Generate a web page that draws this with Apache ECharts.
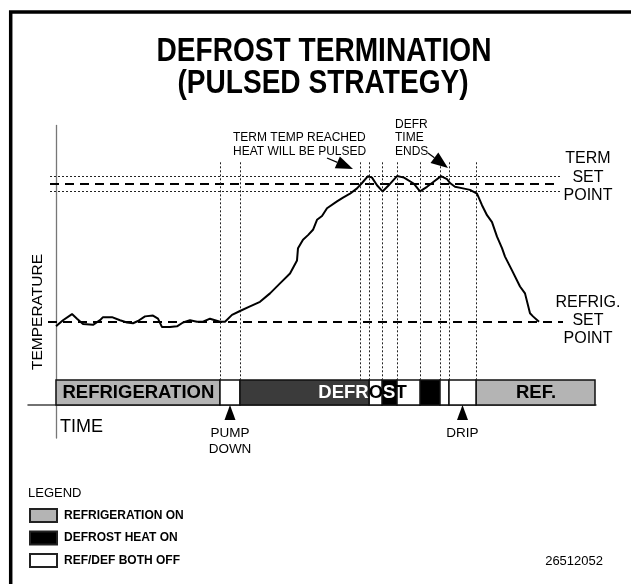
<!DOCTYPE html>
<html>
<head>
<meta charset="utf-8">
<script src="https://cdn.jsdelivr.net/npm/echarts@6/dist/echarts.min.js"></script>
<style>
  html, body { margin: 0; padding: 0; background: #ffffff; }
  #chart { width: 631px; height: 584px; }
</style>
</head>
<body>
<div id="chart"></div>
<script>
// Evaporator temperature through one refrigeration / defrost cycle
// (time in minutes from the start of the trace, temperature in °F)
const timeMinutes = [0, 7, 16, 21, 27, 37, 44, 47, 56, 64, 71, 77, 82, 89, 97, 102, 106, 114, 121, 127,
  134, 141, 147, 154, 159, 164, 169, 176, 184, 194, 204, 214, 224, 234, 241, 242, 247, 252, 257, 261,
  266, 271, 281, 287, 294, 301, 306, 312, 316, 321, 326.5, 332, 341, 348, 358, 364, 371, 377, 385, 391,
  394, 399, 407, 414, 421, 426, 431, 436, 441, 446, 449, 456, 464, 469, 474, 477, 483];
const temperatures = [33.4, 34.2, 35.0, 34.4, 33.7, 33.6, 34.2, 34.6, 34.6, 34.2, 33.9, 33.8, 34.1, 34.7, 34.8, 34.4, 33.3, 33.3, 33.4, 33.9,
  34.2, 34.0, 34.0, 34.4, 34.2, 34.0, 34.0, 34.9, 35.4, 36.0, 36.6, 37.7, 39.0, 40.3, 42.0, 43.6, 44.7, 45.3, 46.0, 47.3,
  47.8, 48.8, 49.7, 50.2, 50.7, 51.4, 52.1, 53.0, 52.8, 51.8, 51.0, 51.7, 53.0, 52.8, 52.0, 51.0, 51.6, 52.2, 53.0, 52.6,
  52.1, 51.6, 51.4, 51.2, 50.7, 49.2, 47.9, 47.0, 45.1, 43.6, 42.5, 40.7, 38.6, 37.7, 35.1, 34.7, 34.0];

// Set points
const refrigSetPoint = 34;
const termSetPoint = 52;
const termBand = 1;             // pulse band either side of the termination set point
const setPointLineStart = -6;   // time where the set-point guides begin
const termLineEnd = 504;
const refrigLineEnd = 507;

// Control events (state changes) and the guide lines that mark them
const eventTimes = [164, 184, 304, 313, 326, 341, 364, 384, 393, 420];
const eventGuideTop = 54.8;

// Controller phases along the time axis
const phaseStarts = [0, 164, 184, 313, 326, 341, 364, 384, 393, 420];
const phaseEnds   = [164, 184, 313, 326, 341, 364, 384, 393, 420, 539];
const phaseStates = ['ref', 'off', 'defrost', 'off', 'heat', 'off', 'heat', 'off', 'off', 'ref'];

// Pointers below the phase bar
const markerTimes = [174, 406.5];
const markerLabels = ['PUMP\nDOWN', 'DRIP'];

const FONT = '"Liberation Sans", Arial, Helvetica, sans-serif';
const BAR_HEIGHT = 25;

const phaseKinds = {
  ref:     { name: 'REFRIGERATION ON', color: '#b4b4b4' },
  heat:    { name: 'DEFROST HEAT ON',  color: '#000000' },
  off:     { name: 'REF/DEF BOTH OFF', color: '#ffffff' },
  defrost: { name: 'DEFROST',          color: '#3b3b3b' }
};

const chart = echarts.init(document.getElementById('chart'), null, { renderer: 'canvas' });

function renderPhase(params, api) {
  const a = api.coord([api.value(0), BAR_HEIGHT]);
  const b = api.coord([api.value(1), 0]);
  return {
    type: 'rect',
    shape: { x: a[0], y: a[1], width: b[0] - a[0], height: b[1] - a[1] },
    style: { fill: api.visual('color'), stroke: '#111', lineWidth: 1.5 }
  };
}

const phaseSeries = Object.keys(phaseKinds).map(function (kind) {
  const data = [];
  phaseStates.forEach(function (s, i) {
    if (s === kind) data.push([phaseStarts[i], phaseEnds[i]]);
  });
  return {
    type: 'custom',
    name: phaseKinds[kind].name,
    xAxisIndex: 1, yAxisIndex: 1,
    renderItem: renderPhase,
    encode: { x: [0, 1] },
    itemStyle: { color: phaseKinds[kind].color, borderColor: '#222', borderWidth: 1 },
    silent: true,
    z: 3,
    data: data
  };
});

const dotted = { color: '#222', width: 1, type: [2, 2] };
const dashed = { color: '#000', width: 2, type: [9, 6] };

const guideLines = [
  [{ coord: [setPointLineStart, termSetPoint + termBand], lineStyle: dotted }, { coord: [termLineEnd, termSetPoint + termBand] }],
  [{ coord: [setPointLineStart, termSetPoint - termBand], lineStyle: dotted }, { coord: [termLineEnd, termSetPoint - termBand] }],
  [{ coord: [setPointLineStart, termSetPoint], lineStyle: dashed }, { coord: [termLineEnd, termSetPoint] }],
  [{ coord: [setPointLineStart - 2, refrigSetPoint], lineStyle: dashed }, { coord: [refrigLineEnd, refrigSetPoint] }]
].concat(eventTimes.map(function (t) {
  return [{ coord: [t, eventGuideTop], lineStyle: dotted }, { coord: [t, 26.4] }];
}));

function arrow(sx, sy, tx, ty, headLen, headHalf) {
  const dx = tx - sx, dy = ty - sy, d = Math.hypot(dx, dy);
  const ux = dx / d, uy = dy / d;
  const bx = tx - ux * headLen, by = ty - uy * headLen;
  return [
    { type: 'line', z: 50, shape: { x1: sx, y1: sy, x2: bx, y2: by }, style: { stroke: '#000', lineWidth: 1.2 } },
    { type: 'polygon', z: 50, shape: { points: [[tx, ty], [bx - uy * headHalf, by + ux * headHalf], [bx + uy * headHalf, by - ux * headHalf]] }, style: { fill: '#000' } }
  ];
}

function label(text, x, y, size, opts) {
  opts = opts || {};
  const align = opts.align || 'left';
  return {
    type: 'text', x: x, y: y, z: 60,
    rotation: opts.rotation || 0,
    scaleX: opts.scaleX || 1,
    style: {
      text: text,
      font: (opts.bold ? 'bold ' : '') + size + 'px ' + FONT,
      fill: opts.color || '#000',
      align: align, textAlign: align,
      verticalAlign: 'middle', textVerticalAlign: 'middle'
    }
  };
}

const graphics = [
  // frame
  { type: 'polyline', z: 40, shape: { points: [[10.7, 584], [10.7, 12], [631, 12]] }, style: { stroke: '#000', lineWidth: 3.5, fill: null } },
  // title
  label('DEFROST TERMINATION', 324, 52, 34, { bold: true, align: 'center', scaleX: 0.826 }),
  label('(PULSED STRATEGY)', 323, 84, 34, { bold: true, align: 'center', scaleX: 0.826 }),
  // annotations
  label('TERM TEMP REACHED', 233, 138, 12),
  label('HEAT WILL BE PULSED', 233, 151.5, 12),
  label('DEFR', 395, 124.5, 12),
  label('TIME', 395, 138, 12),
  label('ENDS', 395, 151.5, 12),
  // set point captions
  label('TERM', 588, 159, 16, { align: 'center' }),
  label('SET', 588, 178, 16, { align: 'center' }),
  label('POINT', 588, 196, 16, { align: 'center' }),
  label('REFRIG.', 588, 303, 16, { align: 'center' }),
  label('SET', 588, 321, 16, { align: 'center' }),
  label('POINT', 588, 339, 16, { align: 'center' }),
  // axis captions
  label('TEMPERATURE', 37.5, 312, 15.5, { align: 'center', rotation: Math.PI / 2 }),
  label('TIME', 60, 427, 18),
  // phase bar captions
  label('REFRIGERATION', 62.5, 393, 18.5, { bold: true }),
  {
    type: 'text', x: 318.3, y: 393, z: 60,
    style: {
      text: '{w|DEFR}{b|O}{w|S}{b|T}',
      rich: {
        w: { fill: '#ffffff', font: 'bold 18.5px ' + FONT },
        b: { fill: '#000000', font: 'bold 18.5px ' + FONT }
      },
      align: 'left', textAlign: 'left', verticalAlign: 'middle', textVerticalAlign: 'middle'
    }
  },
  label('REF.', 536, 393, 18.5, { bold: true, align: 'center' }),
  // legend heading and drawing number
  label('LEGEND', 28, 493, 13),
  label('26512052', 603, 561, 13, { align: 'right' })
].concat(arrow(327, 158, 353, 169, 17, 6.5), arrow(428, 153, 448, 168, 17, 6.5));

const option = {
  backgroundColor: '#ffffff',
  animation: false,
  grid: [
    { left: 28, width: 568, top: 125.5, height: 254.5, containLabel: false },
    { left: 28, width: 568, top: 380, height: 58, containLabel: false }
  ],
  xAxis: [
    { type: 'value', gridIndex: 0, min: -28, max: 540, show: false },
    { type: 'value', gridIndex: 1, min: -28, max: 540,
      axisLine: { show: true, onZero: true, lineStyle: { color: '#444', width: 1.5 } },
      axisTick: { show: false }, axisLabel: { show: false }, splitLine: { show: false } }
  ],
  yAxis: [
    { type: 'value', gridIndex: 0, min: 26.4, max: 59.6,
      axisLine: { show: true, onZero: true, lineStyle: { color: '#777', width: 1.3 } },
      axisTick: { show: false }, axisLabel: { show: false }, splitLine: { show: false } },
    { type: 'value', gridIndex: 1, min: -33, max: 25,
      axisLine: { show: true, onZero: true, lineStyle: { color: '#777', width: 1.3 } },
      axisTick: { show: false }, axisLabel: { show: false }, splitLine: { show: false } }
  ],
  legend: {
    left: 29, top: 508, orient: 'vertical',
    itemWidth: 27, itemHeight: 13, itemGap: 7.5, padding: 0,
    icon: 'rect', selectedMode: false,
    textStyle: { fontFamily: FONT, fontWeight: 'bold', fontSize: 12, color: '#000', padding: [0, 0, 0, 2] },
    data: ['REFRIGERATION ON', 'DEFROST HEAT ON', 'REF/DEF BOTH OFF']
  },
  graphic: graphics,
  series: [
    {
      type: 'line',
      name: 'Temperature',
      xAxisIndex: 0, yAxisIndex: 0,
      data: timeMinutes.map(function (t, i) { return [t, temperatures[i]]; }),
      showSymbol: false,
      symbol: 'none',
      lineStyle: { color: '#000', width: 2 },
      silent: true,
      z: 5,
      markLine: {
        silent: true,
        symbol: ['none', 'none'],
        label: { show: false },
        data: guideLines
      }
    }
  ].concat(phaseSeries, [
    {
      type: 'scatter',
      name: 'markers',
      xAxisIndex: 1, yAxisIndex: 1,
      symbol: 'triangle',
      symbolSize: [11, 15],
      itemStyle: { color: '#000', opacity: 1 },
      silent: true,
      z: 6,
      label: {
        show: true, position: 'bottom', distance: 5,
        fontFamily: FONT, fontSize: 13.5, lineHeight: 16, color: '#000', opacity: 1, align: 'center'
      },
      data: markerTimes.map(function (t, i) {
        return { value: [t, -7.5], label: { formatter: markerLabels[i] } };
      })
    }
  ])
};

chart.setOption(option);
</script>
</body>
</html>
